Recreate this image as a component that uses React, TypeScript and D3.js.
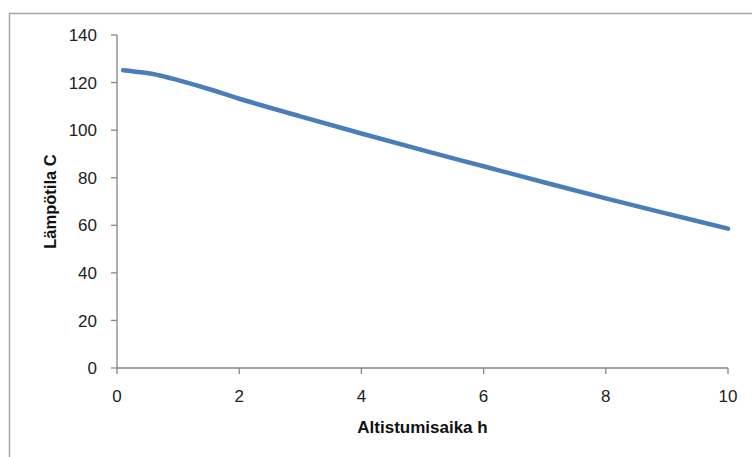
import React from "react";
import * as d3 from "d3";

const hours = [0.1, 0.4, 0.7, 1, 1.5, 2, 3, 4, 5, 6, 7, 8, 9, 10];
const temps = [125.2, 124.3, 123.0, 121.0, 117.3, 113.2, 105.8, 98.6, 91.6, 84.8, 78.0, 71.3, 64.9, 58.6];
const xTicks = [0, 2, 4, 6, 8, 10];
const yTicks = [0, 20, 40, 60, 80, 100, 120, 140];
const xTitle = "Altistumisaika h";
const yTitle = "Lämpötila C";

const W = 752;
const H = 457;
const left = 117;
const right = 728;
const top = 35;
const bottom = 368;
const axisColor = "#868686";
const font = "'Liberation Sans', Arial, sans-serif";

export default function App() {
  const x = d3.scaleLinear().domain([0, 10]).range([left, right]);
  const y = d3.scaleLinear().domain([0, 140]).range([bottom, top]);
  const pts: [number, number][] = hours.map((h, i) => [h, temps[i]]);
  const line = d3
    .line<[number, number]>()
    .x((d) => x(d[0]))
    .y((d) => y(d[1]))
    .curve(d3.curveCatmullRom.alpha(0.5));

  return (
    <svg
      width={W}
      height={H}
      style={{ position: "absolute", left: 0, top: 0, background: "#fff" }}
    >
      <rect x={9.5} y={13.5} width={W + 20} height={H + 20} fill="#fff" stroke="#a6a6a6" strokeWidth={1.5} />
      <line x1={left} x2={left} y1={y(140)} y2={bottom} stroke={axisColor} strokeWidth={1.3} />
      {yTicks.map((t) => (
        <g key={"y" + t}>
          <line x1={left - 6} x2={left} y1={y(t)} y2={y(t)} stroke={axisColor} strokeWidth={1.3} />
          <text
            x={97}
            y={y(t)}
            dy="0.36em"
            textAnchor="end"
            fontFamily={font}
            fontSize={17}
            fill="#222"
          >
            {t}
          </text>
        </g>
      ))}
      <line x1={left} x2={x(10)} y1={bottom} y2={bottom} stroke={axisColor} strokeWidth={1.3} />
      {xTicks.map((t) => (
        <g key={"x" + t}>
          <line x1={x(t)} x2={x(t)} y1={bottom} y2={bottom + 6} stroke={axisColor} strokeWidth={1.3} />
          <text
            x={x(t)}
            y={402}
            textAnchor="middle"
            fontFamily={font}
            fontSize={17}
            fill="#222"
          >
            {t}
          </text>
        </g>
      ))}
      <text
        x={(left + right) / 2}
        y={433}
        textAnchor="middle"
        fontFamily={font}
        fontSize={17}
        fontWeight="bold"
        fill="#111"
      >
        {xTitle}
      </text>
      <text
        transform={`translate(56, ${(top + bottom) / 2}) rotate(-90)`}
        textAnchor="middle"
        fontFamily={font}
        fontSize={16.5}
        fontWeight="bold"
        fill="#111"
      >
        {yTitle}
      </text>
      <path
        d={line(pts) || ""}
        fill="none"
        stroke="#4a7ebb"
        strokeWidth={4.5}
        strokeLinecap="round"
        strokeLinejoin="round"
      />
    </svg>
  );
}
